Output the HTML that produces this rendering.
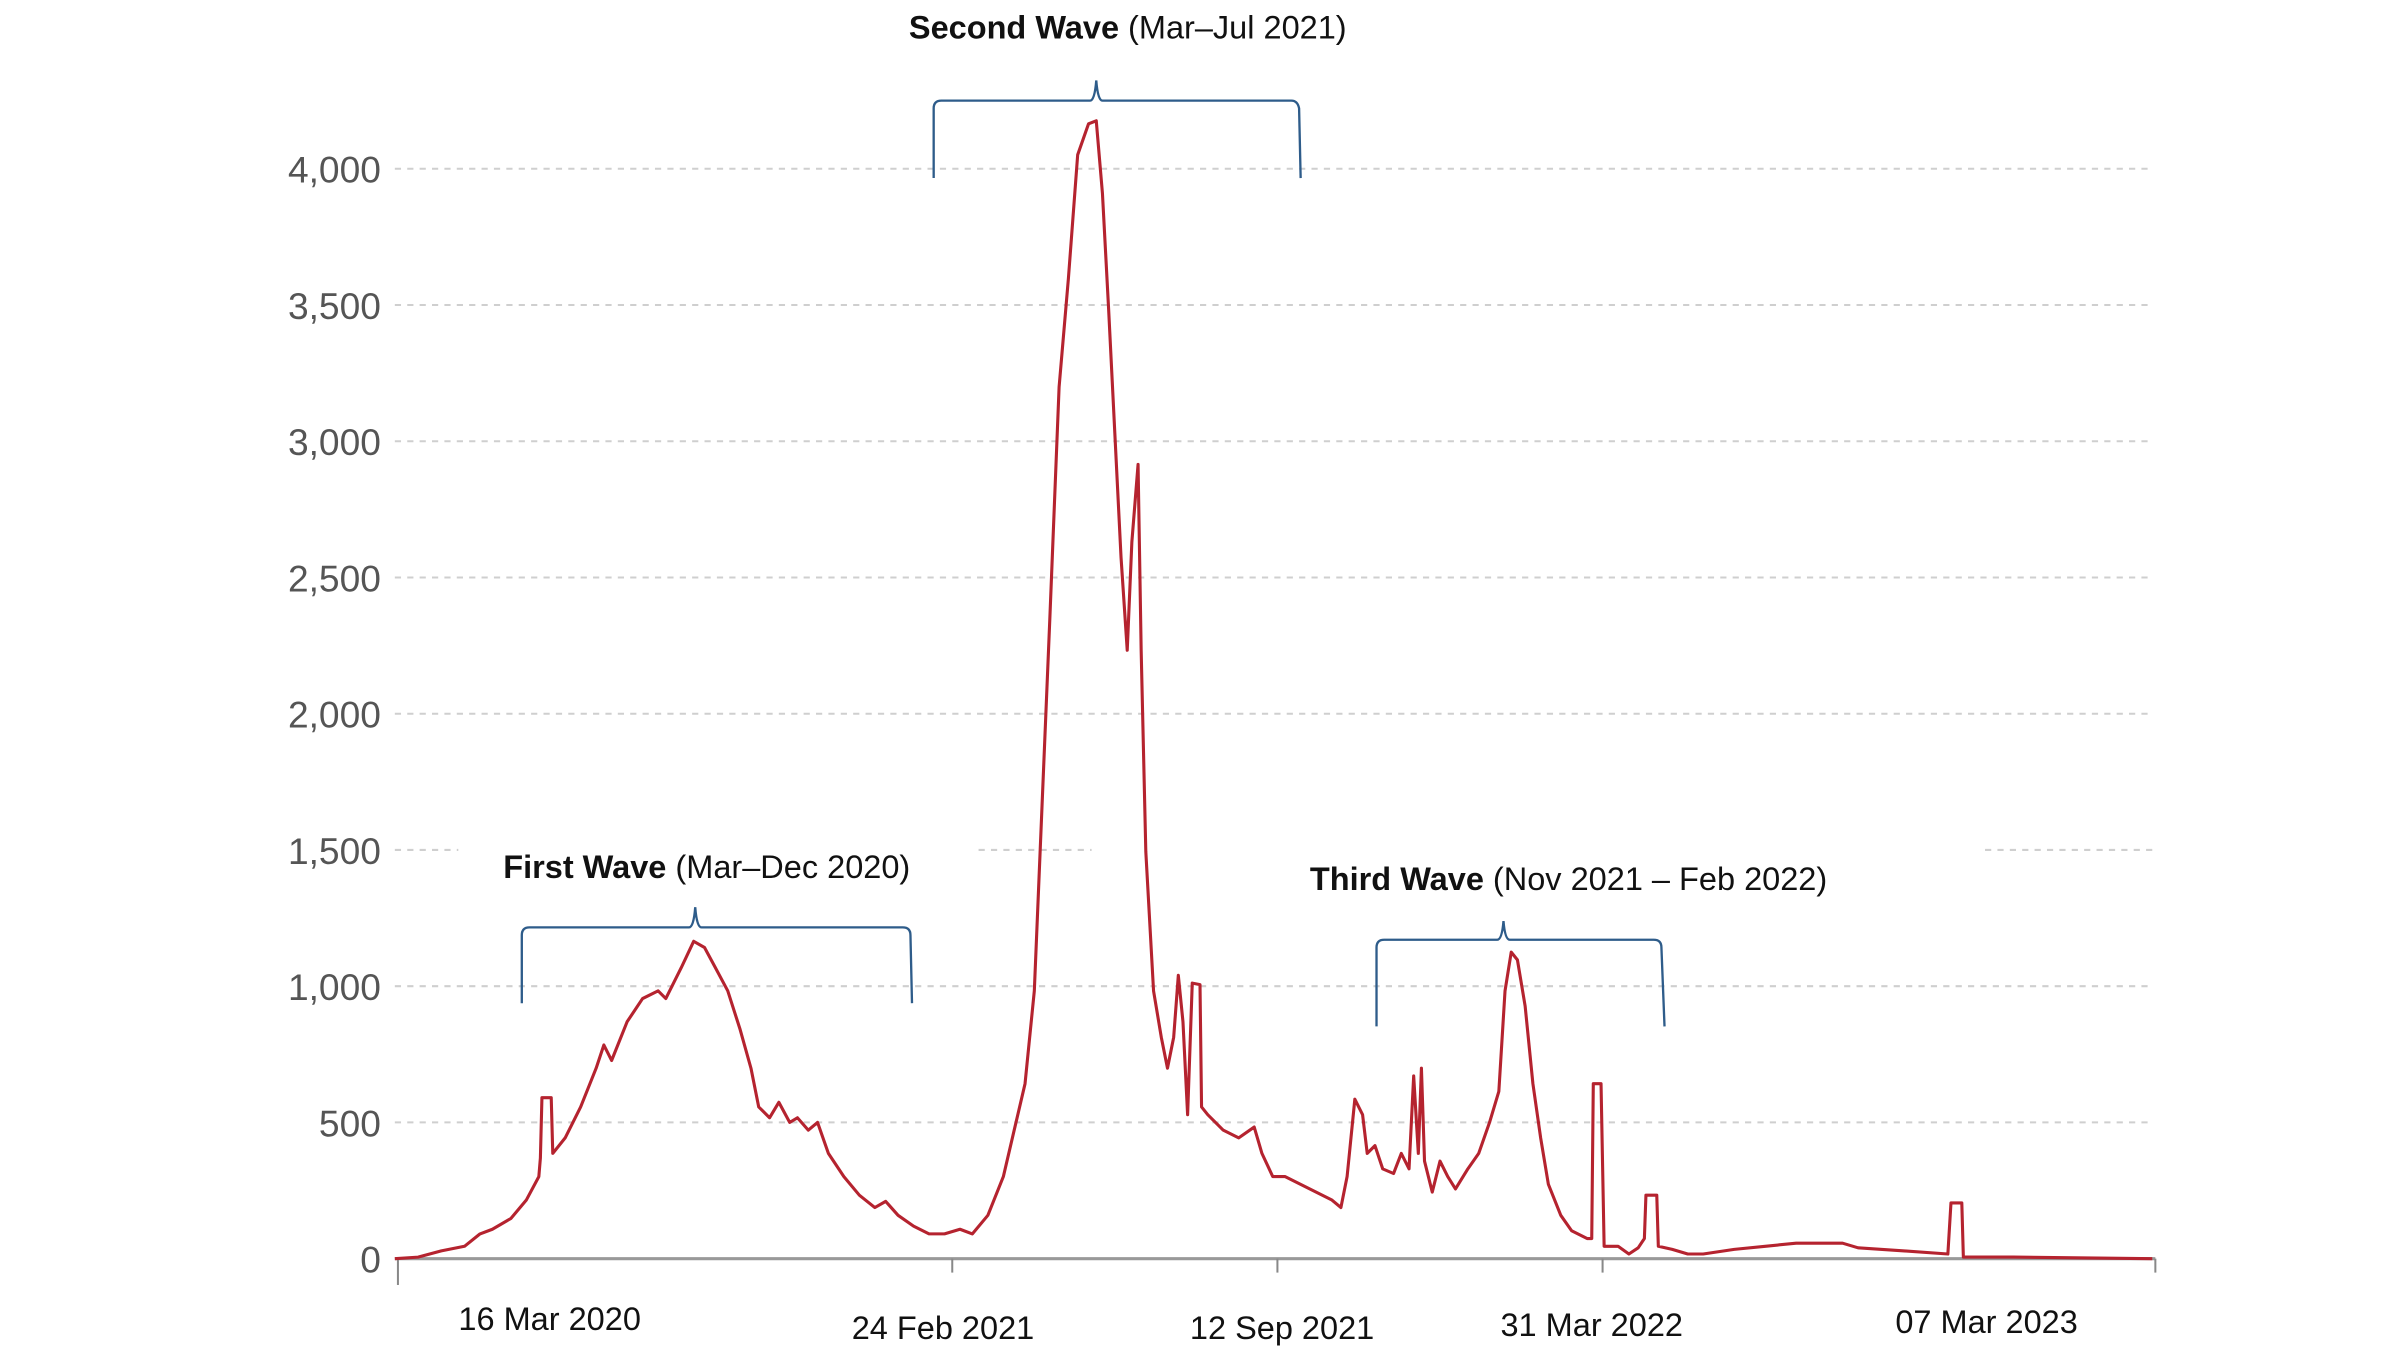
<!DOCTYPE html>
<html><head><meta charset="utf-8"><style>
html,body{margin:0;padding:0;background:#fff;}
svg{display:block;}
</style></head><body>
<svg width="2400" height="1350" viewBox="0 0 1550 872" preserveAspectRatio="none" xmlns="http://www.w3.org/2000/svg">
<rect width="1550" height="872" fill="#fff"/>
<g stroke="#cfcfcf" stroke-width="1.3" stroke-dasharray="4,4">
<line x1="255" y1="109" x2="1390" y2="109"/>
<line x1="255" y1="197" x2="1390" y2="197"/>
<line x1="255" y1="285" x2="1390" y2="285"/>
<line x1="255" y1="373" x2="1390" y2="373"/>
<line x1="255" y1="461" x2="1390" y2="461"/>
<line x1="255" y1="549" x2="296" y2="549"/>
<line x1="632" y1="549" x2="705" y2="549"/>
<line x1="1282" y1="549" x2="1390" y2="549"/>
<line x1="255" y1="637" x2="1390" y2="637"/>
<line x1="255" y1="725" x2="1390" y2="725"/>
</g>
<g font-family="Liberation Sans Narrow, Liberation Sans, sans-serif" font-size="24" fill="#555" text-anchor="end">
<text x="246" y="118">4,000</text>
<text x="246" y="206">3,500</text>
<text x="246" y="294">3,000</text>
<text x="246" y="382">2,500</text>
<text x="246" y="470">2,000</text>
<text x="246" y="558">1,500</text>
<text x="246" y="646">1,000</text>
<text x="246" y="734">500</text>
<text x="246" y="822">0</text>
</g>
<line x1="255" y1="813" x2="1392" y2="813" stroke="#999" stroke-width="2"/>
<g stroke="#888" stroke-width="1.3">
<line x1="257" y1="813" x2="257" y2="830"/>
<line x1="615" y1="813" x2="615" y2="822"/>
<line x1="825" y1="813" x2="825" y2="822"/>
<line x1="1035" y1="813" x2="1035" y2="822"/>
<line x1="1392" y1="813" x2="1392" y2="822"/>
</g>
<g font-family="Liberation Sans Narrow, Liberation Sans, sans-serif" font-size="21" fill="#111" text-anchor="middle">
<text x="355" y="859">16 Mar 2020</text>
<text x="609" y="865">24 Feb 2021</text>
<text x="828" y="865">12 Sep 2021</text>
<text x="1028" y="863">31 Mar 2022</text>
<text x="1283" y="861">07 Mar 2023</text>
</g>
<rect x="125" y="878" width="1318" height="5" fill="#eee"/>
<polyline fill="none" stroke="#b5232f" stroke-width="2" stroke-linejoin="round" points="255,813 270,812 285,808 300,805 310,797 318,794 330,787 340,775 348,760 349,748 350,709 356,709 357,745 365,735 375,715 385,690 390,675 395,685 405,660 415,645 425,640 430,645 440,625 448,608 455,612 462,625 470,640 478,665 485,690 490,715 497,722 503,712 510,725 515,722 522,730 528,725 535,745 545,760 555,772 565,780 572,776 580,785 590,792 600,797 610,797 620,794 628,797 638,785 648,760 655,730 662,700 668,640 673,520 678,400 684,250 690,180 696,100 703,80 708,78 712,125 716,200 720,280 724,360 728,420 731,350 735,300 737,420 740,550 745,640 750,670 754,690 758,670 761,630 764,660 767,720 770,635 775,636 776,715 780,720 790,730 800,735 810,728 815,745 822,760 830,760 840,765 850,770 860,775 866,780 870,760 875,710 880,720 883,745 888,740 893,755 900,758 905,745 910,755 913,695 916,745 918,690 920,750 925,770 930,750 935,760 940,768 948,755 955,745 962,725 968,705 972,640 976,615 980,620 985,650 990,700 995,735 1000,765 1008,785 1015,795 1025,800 1028,800 1029,700 1034,700 1036,805 1045,805 1052,810 1058,806 1062,800 1063,772 1070,772 1071,805 1080,807 1090,810 1100,810 1120,807 1140,805 1160,803 1190,803 1200,806 1230,808 1258,810 1260,777 1267,777 1268,812 1300,812 1390,813"/>
<g fill="none" stroke="#2e5c8a" stroke-width="1.5">
<path d="M337,648 L337,604 Q337,599 342,599 L445,599 Q448,599 449,586 Q450,599 453,599 L583,599 Q588,599 588,604 L589,648"/>
<path d="M603,115 L603,70 Q603,65 608,65 L704,65 Q707,65 708,52 Q709,65 712,65 L834,65 Q838,65 839,70 L840,115"/>
<path d="M889,663 L889,612 Q889,607 894,607 L967,607 Q970,607 971,595 Q972,607 975,607 L1068,607 Q1073,607 1073,612 L1075,663"/>
</g>
<g font-family="Liberation Sans Narrow, Liberation Sans, sans-serif" font-size="21" fill="#111">
<text x="587" y="25"><tspan font-weight="bold">Second Wave</tspan> (Mar–Jul 2021)</text>
<text x="325" y="567"><tspan font-weight="bold">First Wave</tspan> (Mar–Dec 2020)</text>
<text x="846" y="575"><tspan font-weight="bold">Third Wave</tspan> (Nov 2021 – Feb 2022)</text>
</g>
</svg>
</body></html>
